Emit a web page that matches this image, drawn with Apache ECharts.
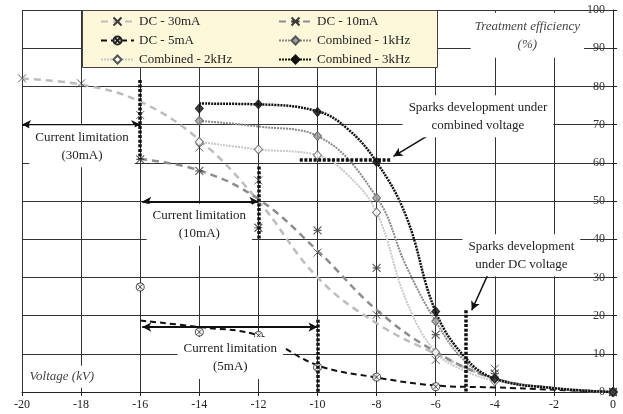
<!DOCTYPE html>
<html><head><meta charset="utf-8">
<script src="https://cdn.jsdelivr.net/npm/echarts@6/dist/echarts.min.js"></script>
<style>html,body{margin:0;padding:0;background:#fff}#c{width:623px;height:414px}</style>
</head><body><div id="c"></div>
<script>
// ---- data (voltage kV, treatment efficiency %) ----
const seriesNames = ['DC - 30mA','DC - 10mA','DC - 5mA','Combined - 1kHz','Combined - 2kHz','Combined - 3kHz'];

// measured points (markers)
const pts30mA = [[-20,82.1],[-18,80.8],[-16,72.5],[-14,64],[-12,55.4],[-10,36.5],[-8,20.2],[-6,8.4],[-4,6.1],[0,0]];
const pts10mA = [[-16,60.9],[-14,57.9],[-12,43],[-10,42.3],[-8,32.5],[-6,15],[-4,4.8],[0,0]];
const pts5mA  = [[-16,27.5],[-14,15.7],[-12,14.8],[-10,6.5],[-8,3.9],[-6,1.4],[0,0]];
const pts1kHz = [[-14,71],[-10,67],[-8,50.8],[-6,18.5],[-4,3.5],[0,0]];
const pts2kHz = [[-14,65.5],[-12,63.5],[-10,62],[-8,47],[-6,10.4],[-4,2.8],[0,0]];
const pts3kHz = [[-14,74.2],[-12,75.3],[-10,73.3],[-8,60.2],[-6,21.1],[-4,3.5],[0,0]];

// trend curves
const curve30mA = [[-20,82],[-18,80.5],[-16,76],[-14,66],[-12,50],[-10,30],[-8,18],[-6,10],[-4,3.5],[-2,1],[0,0]];
const curve10mA = [[-16,61],[-14,58],[-12,50.5],[-10,37],[-8,21.5],[-6,10.5],[-4,3.5],[-2,1],[0,0]];
const curve5mA  = [[-16,18.7],[-14,17],[-12,14.8],[-10,7],[-8,3.8],[-6,1.7],[-4,1.2],[-2,0.6],[0,0]];
const curve1kHz = [[-14,71],[-12,69.5],[-10,67],[-8,51],[-7,33],[-6,18.5],[-5,8],[-4,3.5],[-2,1],[0,0]];
const curve2kHz = [[-14,65.5],[-12,63.5],[-10,62],[-9,57],[-8,47],[-7,24],[-6,10.4],[-5,5.5],[-4,3],[-2,1],[0,0]];
const curve3kHz = [[-14,75.5],[-12,75.3],[-10,73.5],[-9,69],[-8,60.2],[-7,46],[-6,21],[-5,9],[-4,3.5],[-2,1],[0,0]];

// axes
const xMin = -20, xMax = 0, xStep = 2;
const yMin = 0, yMax = 100, yStep = 10;

// annotations (data coordinates)
const dottedLines = [
  [[-16,81.7],[-16,60.9]],
  [[-12,59],[-12,40.1]],
  [[-10,18.9],[-10,0]],
  [[-10.6,60.9],[-7.5,60.9]],
  [[-5,21.4],[-5,0]]
];
const limitArrows = [
  [[-20,70],[-16,70]],
  [[-15.93,49.9],[-12,49.9]],
  [[-15.93,17],[-10,17]]
];
const pointerArrows = [
  [[-6.25,67.2],[-7.43,61.7]],
  [[-4.22,31.0],[-4.78,21.4]]
];
const noteTexts = [
  {at:[-17.97,64.3], text:'Current limitation\n(30mA)'},
  {at:[-14.0,43.8], text:'Current limitation\n(10mA)'},
  {at:[-12.95,8.9], text:'Current limitation\n(5mA)'},
  {at:[-4.57,72.2], text:'Sparks development under\ncombined voltage'},
  {at:[-3.1,35.8], text:'Sparks development\nunder DC voltage'}
];
const axisTitles = [
  {at:[-2.9,93.4], text:'Treatment efficiency\n(%)'},
  {at:[-18.65,4.0], text:'Voltage (kV)'}
];

// ---- styles ----
const FONT = 'Liberation Serif';
const SYM_X = 'path://M0,0L10,10M10,0L0,10';
const SYM_AST = 'path://M0,0L10,10M10,0L0,10M0,5L10,5';
const SYM_CX = 'path://M5,0A5,5,0,1,1,4.99,0ZM1.6,1.6L8.4,8.4M8.4,1.6L1.6,8.4';

const looks = [
  {line:{color:'#bdbdbd', width:2.5, type:[7,5]}, sym:SYM_X, size:8, item:{color:'rgba(0,0,0,0)', borderColor:'#3a3a3a', borderWidth:1}},
  {line:{color:'#8c8c8c', width:2.5, type:[7,5]}, sym:SYM_AST, size:8, item:{color:'rgba(0,0,0,0)', borderColor:'#3a3a3a', borderWidth:1.2}},
  {line:{color:'#111', width:2, type:[6,4]}, sym:SYM_CX, size:8, item:{color:'#fff', borderColor:'#222', borderWidth:1}},
  {line:{color:'#8a8a8a', width:2, type:[2,1]}, sym:'diamond', size:[8,9], item:{color:'#a0a0a0', borderColor:'#555', borderWidth:1}},
  {line:{color:'#c8c8c8', width:2, type:[2,1]}, sym:'diamond', size:[8,9], item:{color:'#fff', borderColor:'#555', borderWidth:1}},
  {line:{color:'#111', width:2.5, type:[2,1]}, sym:'diamond', size:[8,9], item:{color:'#111', borderColor:'#111', borderWidth:1}}
];
const curves = [curve30mA, curve10mA, curve5mA, curve1kHz, curve2kHz, curve3kHz];
const points = [pts30mA, pts10mA, pts5mA, pts1kHz, pts2kHz, pts3kHz];

const series = [];
seriesNames.forEach((n,i)=>{
  series.push({
    name:n, type:'line', data:curves[i], smooth:0.4, showSymbol:false,
    symbol:looks[i].sym, symbolSize:looks[i].size,
    lineStyle:looks[i].line, itemStyle:looks[i].item, z:2, silent:true
  });
});
seriesNames.forEach((n,i)=>{
  series.push({
    name:n, type:'scatter', data:points[i], symbol:looks[i].sym, symbolSize:looks[i].size,
    itemStyle:looks[i].item, z:3, silent:true
  });
});

const lineItems = [];
dottedLines.forEach(l=>lineItems.push([
  {coord:l[0], symbol:'none', lineStyle:{color:'#111', width:3.5, type:[3,1.6]}},
  {coord:l[1], symbol:'none'}
]));
limitArrows.forEach(l=>lineItems.push([
  {coord:l[0], symbol:'arrow', symbolSize:[7,9], lineStyle:{color:'#111', width:2, type:'solid'}},
  {coord:l[1], symbol:'arrow', symbolSize:[7,9]}
]));
pointerArrows.forEach(l=>lineItems.push([
  {coord:l[0], symbol:'none', lineStyle:{color:'#111', width:1.5, type:'solid'}},
  {coord:l[1], symbol:'arrow', symbolSize:[7,9]}
]));

const labelBase = {show:true, position:'inside', fontFamily:FONT, fontSize:13, color:'#222',
  backgroundColor:'#fff', lineHeight:18, padding:[3,6,3,6]};
const pointItems = noteTexts.map(t=>({coord:t.at, symbol:'rect', symbolSize:1,
  itemStyle:{color:'rgba(0,0,0,0)'}, label:Object.assign({}, labelBase, {formatter:t.text})}));
axisTitles.forEach((t,k)=>pointItems.push({coord:t.at, symbol:'rect', symbolSize:1,
  itemStyle:{color:'rgba(0,0,0,0)'},
  label:Object.assign({}, labelBase, {formatter:t.text, fontStyle:'italic', color:'#444',
    padding: k===0 ? [4,4,5,4] : [2,4,2,4]})}));

series.push({
  name:'notes', type:'line', data:[], z:5, silent:true,
  markLine:{silent:true, animation:false, symbol:['none','none'], label:{show:false}, data:lineItems},
  markPoint:{silent:true, animation:false, data:pointItems}
});

const legendText = {fontFamily:FONT, fontSize:13, color:'#222'};
const option = {
  animation:false,
  backgroundColor:'#fff',
  grid:{left:22, right:10, top:10, bottom:22},
  xAxis:{type:'value', min:xMin, max:xMax, interval:xStep,
    axisLine:{show:true, onZero:false, lineStyle:{color:'#222', width:1}},
    axisTick:{show:true, length:4, lineStyle:{color:'#222'}},
    axisLabel:{color:'#222', fontFamily:FONT, fontSize:12, margin:7},
    splitLine:{show:true, lineStyle:{color:'#333', width:1}}},
  yAxis:{type:'value', position:'right', min:yMin, max:yMax, interval:yStep,
    axisLine:{show:true, lineStyle:{color:'#222', width:1}},
    axisTick:{show:true, inside:false, length:4, lineStyle:{color:'#222'}},
    axisLabel:{inside:true, color:'#333', fontFamily:FONT, fontSize:12, margin:8},
    splitLine:{show:true, lineStyle:{color:'#333', width:1}}},
  legend:[
    {data:[seriesNames[0],seriesNames[2],seriesNames[4]], orient:'vertical', left:100, top:15, padding:0,
     itemWidth:33, itemHeight:10, itemGap:6, textStyle:legendText, selectedMode:false, z:6},
    {data:[seriesNames[1],seriesNames[3],seriesNames[5]], orient:'vertical', left:278, top:15, padding:0,
     itemWidth:33, itemHeight:10, itemGap:6, textStyle:legendText, selectedMode:false, z:6}
  ],
  graphic:[{type:'rect', left:82, top:10, shape:{width:355, height:57},
    style:{fill:'#fdf8da', stroke:'#444', lineWidth:1}, z:5, silent:true}],
  series:series
};
const chart = echarts.init(document.getElementById('c'), null, {renderer:'canvas'});
chart.setOption(option);
</script></body></html>
